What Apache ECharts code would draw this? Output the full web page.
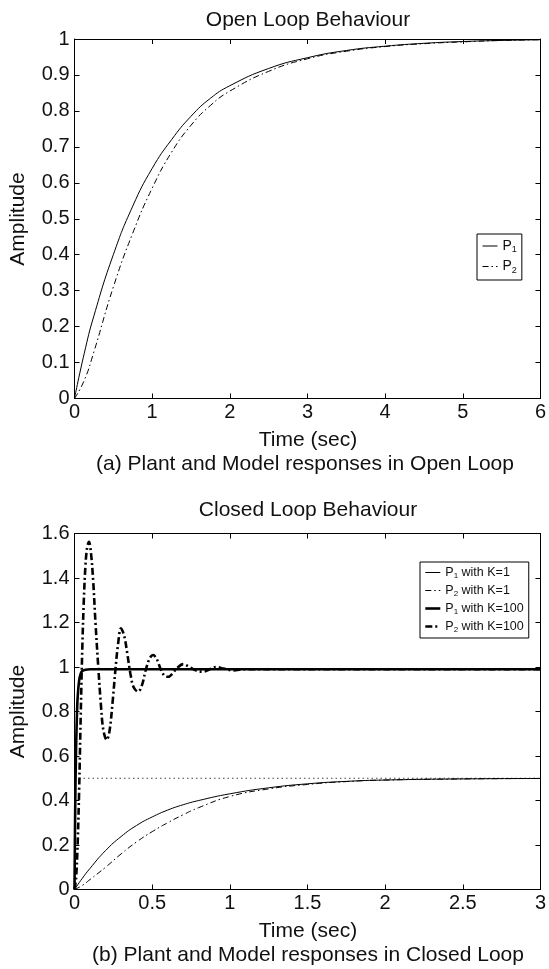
<!DOCTYPE html>
<html>
<head>
<meta charset="utf-8">
<script src="https://cdn.jsdelivr.net/npm/echarts@6/dist/echarts.min.js"></script>
<style>
html,body{margin:0;padding:0;background:#fff;}
#chart{width:549px;height:969px;}
</style>
</head>
<body>
<div id="chart"></div>
<script>
// ---- Open loop data (time in sec, amplitude) ----
const openT  = [0, 0.125, 0.25, 0.5, 0.75, 1, 1.25, 1.5, 1.75, 2, 2.5, 3, 3.5, 4, 4.5, 5, 5.5, 6];
const openP1 = [0, 0.125, 0.23, 0.40, 0.535, 0.64, 0.72, 0.785, 0.835, 0.87, 0.918, 0.948, 0.968, 0.98, 0.988, 0.993, 0.996, 0.998];
const openP2 = [0, 0.05, 0.13, 0.31, 0.46, 0.585, 0.685, 0.76, 0.815, 0.855, 0.91, 0.945, 0.966, 0.979, 0.987, 0.992, 0.996, 0.998];

// ---- Closed loop, K=1 ----
const clT1    = [0, 0.05, 0.1, 0.2, 0.3, 0.4, 0.5, 0.6, 0.7, 0.8, 1.0, 1.25, 1.5, 1.75, 2, 2.5, 3];
const clP1K1  = [0, 0.05, 0.095, 0.175, 0.238, 0.288, 0.326, 0.357, 0.381, 0.4, 0.43, 0.457, 0.475, 0.486, 0.492, 0.497, 0.499];
const clP2K1  = [0, 0.018, 0.045, 0.1, 0.16, 0.214, 0.26, 0.3, 0.336, 0.368, 0.418, 0.452, 0.472, 0.485, 0.492, 0.497, 0.499];

// ---- Closed loop, K=100 ----
const clTa     = [0, 0.005, 0.01, 0.015, 0.02, 0.03, 0.04, 0.05, 0.07, 0.1, 3];
const clP1K100 = [0, 0.4, 0.63, 0.77, 0.86, 0.94, 0.97, 0.982, 0.988, 0.99, 0.99];
const clTb     = [0, 0.01, 0.02, 0.03, 0.04, 0.05, 0.06, 0.07, 0.08, 0.093, 0.105, 0.12, 0.135, 0.153, 0.17, 0.185, 0.207, 0.225, 0.245, 0.265, 0.28, 0.299, 0.32, 0.34, 0.36, 0.38, 0.41, 0.435, 0.46, 0.485, 0.506, 0.53, 0.555, 0.58, 0.603, 0.63, 0.66, 0.7, 0.74, 0.78, 0.83, 0.87, 0.91, 0.96, 1.02, 1.1, 1.2, 3];
const clP2K100 = [0, 0.05, 0.2, 0.45, 0.78, 1.08, 1.3, 1.45, 1.53, 1.563, 1.52, 1.39, 1.2, 1.0, 0.83, 0.72, 0.672, 0.71, 0.84, 1.0, 1.1, 1.174, 1.14, 1.06, 0.97, 0.91, 0.889, 0.92, 0.99, 1.04, 1.054, 1.035, 0.99, 0.96, 0.956, 0.97, 0.995, 1.013, 1.0, 0.985, 0.979, 0.99, 1.0, 0.993, 0.985, 0.99, 0.99, 0.99];
const refT = [0, 3];
const refLevel = [0.5, 0.5];

// ---- labels ----
const titleTop = 'Open Loop Behaviour';
const titleBottom = 'Closed Loop Behaviour';
const xName = 'Time (sec)';
const yName = 'Amplitude';
const capTop = '(a) Plant and Model responses in Open Loop';
const capBottom = '(b) Plant and Model responses in Closed Loop';
const legTop = ['P1', 'P2'];
const legBottom = ['P1 with K=1', 'P2 with K=1', 'P1 with K=100', 'P2 with K=100'];

const zip = (xs, ys) => xs.map((x, i) => [x, ys[i]]);
const FONT = '"Liberation Sans", Arial, Helvetica, sans-serif';
const INK = '#111';

function axisPair(gridIndex, min, max, interval, isX, labels) {
  return {
    type: 'value', gridIndex, min, max, interval,
    axisLine: { show: true, onZero: false, lineStyle: { color: '#000', width: 1 } },
    axisTick: { show: true, inside: true, length: 5, lineStyle: { color: '#000' } },
    splitLine: { show: false },
    axisLabel: { show: labels, fontSize: 20, fontFamily: FONT, color: INK, margin: isX ? 4 : 5, showMinLabel: true, showMaxLabel: true }
  };
}

const grids = [
  { left: 74.5, top: 39, width: 466.5, height: 359.5 },
  { left: 74.5, top: 533.5, width: 466.5, height: 356 }
];

const xAxes = [
  Object.assign(axisPair(0, 0, 6, 1, true, true), { position: 'bottom' }),
  Object.assign(axisPair(0, 0, 6, 1, true, false), { position: 'top' }),
  Object.assign(axisPair(1, 0, 3, 0.5, true, true), { position: 'bottom' }),
  Object.assign(axisPair(1, 0, 3, 0.5, true, false), { position: 'top' })
];
const yAxes = [
  Object.assign(axisPair(0, 0, 1, 0.1, false, true), { position: 'left' }),
  Object.assign(axisPair(0, 0, 1, 0.1, false, false), { position: 'right' }),
  Object.assign(axisPair(1, 0, 1.6, 0.2, false, true), { position: 'left' }),
  Object.assign(axisPair(1, 0, 1.6, 0.2, false, false), { position: 'right' })
];

const thinSolid = { color: '#000', width: 1, type: 'solid' };
const thinDash = { color: '#000', width: 1, type: [6, 3, 1.5, 3] };
const thickSolid = { color: '#000', width: 2.6, type: 'solid' };
const thickDash = { color: '#000', width: 2.6, type: [7, 3, 2, 3] };

function line(name, data, xi, yi, style, smooth) {
  return {
    name, type: 'line', data, xAxisIndex: xi, yAxisIndex: yi,
    showSymbol: false, symbol: 'none', smooth: smooth, lineStyle: style,
    legendIcon: 'none',
    itemStyle: { color: '#000' }, animation: false, z: 3
  };
}

const series = [
  line(legTop[0], zip(openT, openP1), 0, 0, thinSolid, 0.5),
  line(legTop[1], zip(openT, openP2), 0, 0, thinDash, 0.5),
  line('ref', zip(refT, refLevel), 2, 2, { color: '#444', width: 1, type: [1.5, 3] }, false),
  line(legBottom[0], zip(clT1, clP1K1), 2, 2, thinSolid, 0.5),
  line(legBottom[1], zip(clT1, clP2K1), 2, 2, thinDash, 0.5),
  line(legBottom[2], zip(clTa, clP1K100), 2, 2, thickSolid, 0.25),
  line(legBottom[3], zip(clTb, clP2K100), 2, 2, thickDash, 0.35)
];

function legFmt(name) {
  return '{a|P}{s|' + name.charAt(1) + '}{a|' + name.slice(2) + '}';
}
function rich(size) {
  return {
    a: { fontSize: size, fontFamily: FONT, color: INK },
    s: { fontSize: Math.round(size * 0.65), fontFamily: FONT, color: INK, padding: [Math.round(size * 0.55), 0, 0, 0] }
  };
}

const legends = [
  {
    data: legTop, orient: 'vertical', left: 477, top: 234,
    padding: [5, 5, 5, 5], itemGap: 5, itemWidth: 15, itemHeight: 14,
    borderColor: '#000', borderWidth: 1, borderRadius: 0, backgroundColor: '#fff',
    itemStyle: { opacity: 0 }, lineStyle: { width: 'inherit', type: 'inherit' },
    formatter: legFmt, textStyle: { rich: rich(14), fontSize: 14 }, selectedMode: false
  },
  {
    data: legBottom, orient: 'vertical', left: 420, top: 562,
    padding: [4, 5, 4, 4], itemGap: 4, itemWidth: 15, itemHeight: 12,
    borderColor: '#000', borderWidth: 1, borderRadius: 0, backgroundColor: '#fff',
    itemStyle: { opacity: 0 }, lineStyle: { width: 'inherit', type: 'inherit' },
    formatter: legFmt, textStyle: { rich: rich(12.5), fontSize: 12.5 }, selectedMode: false
  }
];

function txt(text, x, y, size, rot) {
  return {
    type: 'text', x, y, rotation: rot || 0, z: 10,
    style: { text, fontSize: size, fontFamily: FONT, fill: INK, align: 'center', verticalAlign: 'middle', textAlign: 'center', textVerticalAlign: 'middle' }
  };
}

const graphics = [
  txt(titleTop, 308, 20, 21),
  txt(xName, 308, 440, 21),
  txt(capTop, 305, 464.5, 21),
  txt(titleBottom, 308, 510, 21),
  txt(xName, 308, 931, 21),
  txt(capBottom, 308, 955.5, 21),
  txt(yName, 18.5, 219, 21, Math.PI / 2),
  txt(yName, 18.5, 711.5, 21, Math.PI / 2)
];

const chart = echarts.init(document.getElementById('chart'), null, { renderer: 'canvas' });
chart.setOption({
  animation: false,
  backgroundColor: '#fff',
  grid: grids,
  xAxis: xAxes,
  yAxis: yAxes,
  legend: legends,
  series,
  graphic: graphics
});
</script>
</body>
</html>
